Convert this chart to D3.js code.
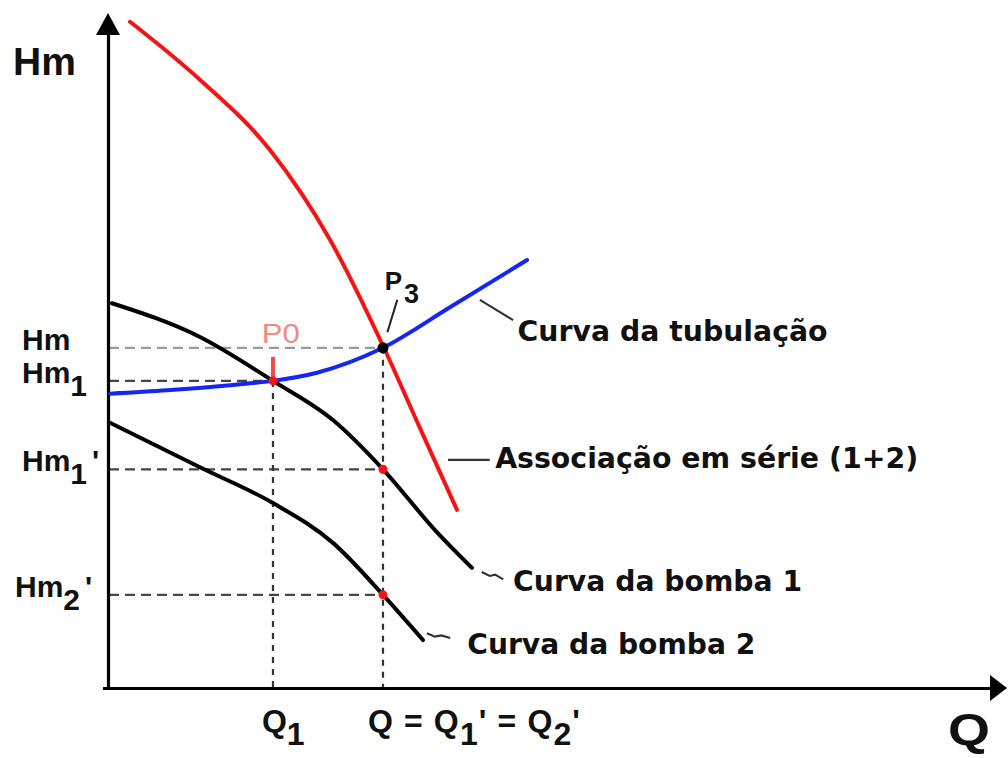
<!DOCTYPE html>
<html><head><meta charset="utf-8">
<script src="https://cdn.jsdelivr.net/npm/d3@7"></script>
<style>body{margin:0;background:#fff}svg{display:block}</style>
</head><body>
<svg id="c" width="1008" height="758"></svg>
<script>
// ---- data (Q, Hm) in arbitrary units ----
const serieCurve = [[2.34,98.7],[10.13,90.1],[17.93,79.7],[24.61,66.4],[30.51,50.7],[34.63,38.5],[38.75,26.4]];
const bomba1Curve = [[0.33,57.0],[10.13,52.0],[18.26,45.5],[24.94,39.7],[30.51,32.4],[36.30,23.4],[40.42,17.8]];
const bomba2Curve = [[0.11,39.3],[10.13,32.7],[18.26,27.4],[24.94,21.5],[30.51,13.8],[34.97,7.1]];
const tubulacaoCurve = [[0.11,43.6],[6.46,44.1],[13.81,44.9],[18.26,45.5],[23.16,46.7],[30.51,50.4],[37.97,56.4],[46.55,63.4]];

const qValues = {Q1: 18.26, Q: 30.51};
const hmValues = {Hm: 50.4, Hm1: 45.5, Hm1p: 32.4, Hm2p: 13.8};

// tick label parts: [text, isSub]
const qTickLabels = [
  {q: qValues.Q1, parts: [["Q",0],["1",1]], dx: -11},
  {q: qValues.Q, parts: [["Q = Q",0],["1",1],["' = Q",0],["2",1],["'",0]], dx: -15, len: 212}
];
const hmTickLabels = [
  {hm: hmValues.Hm, parts: [["Hm",0]], x: 22},
  {hm: hmValues.Hm1, parts: [["Hm",0],["1",1]], x: 22},
  {hm: hmValues.Hm1p, parts: [["Hm",0],["1",1],["'",0]], x: 22},
  {hm: hmValues.Hm2p, parts: [["Hm",0],["2",1],["'",0]], x: 15}
];

// reference (dashed) lines
const hRefs = [
  {hm: hmValues.Hm, qEnd: qValues.Q, color: "#9a9a9a"},
  {hm: hmValues.Hm1, qEnd: qValues.Q1, color: "#444"},
  {hm: hmValues.Hm1p, qEnd: qValues.Q, color: "#444"},
  {hm: hmValues.Hm2p, qEnd: qValues.Q, color: "#444"}
];
const vRefs = [
  {q: qValues.Q1, hmTop: hmValues.Hm1},
  {q: qValues.Q, hmTop: hmValues.Hm}
];

// curve labels with leader lines (data units)
const curveLabels = [
  {text: "Curva da tubulação", x: 45.5, y: 51.4, len: 310, leader: [[41.3,57.5],[45.0,54.5]]},
  {text: "Associação em série (1+2)", x: 43.0, y: 32.6, len: 423, leader: [[37.75,33.8],[42.4,33.8]]},
  {text: "Curva da bomba 1", x: 45.0, y: 14.4, len: 289, leader: [[41.5,17.2],[42.4,16.6],[43.0,16.8],[43.9,16.1]]},
  {text: "Curva da bomba 2", x: 39.9, y: 5.0, len: 288, leader: [[35.4,8.1],[36.3,7.6],[37.0,7.8],[38.0,7.4]]}
];

const svg = d3.select("#c");
const x = d3.scaleLinear().domain([0,100]).range([109,1007]);
const y = d3.scaleLinear().domain([0,100]).range([688,13]);

const line = d3.line().x(d=>x(d[0])).y(d=>y(d[1])).curve(d3.curveMonotoneX);
const straight = d3.line().x(d=>x(d[0])).y(d=>y(d[1]));

// dashed reference lines
svg.append("g").selectAll("line").data(hRefs).join("line")
  .attr("x1", x(0)).attr("x2", d=>x(d.qEnd))
  .attr("y1", d=>y(d.hm)).attr("y2", d=>y(d.hm))
  .attr("stroke", d=>d.color).attr("stroke-width", 2.2).attr("stroke-dasharray","10,6");
svg.append("g").selectAll("line").data(vRefs).join("line")
  .attr("x1", d=>x(d.q)).attr("x2", d=>x(d.q))
  .attr("y1", d=>y(d.hmTop)).attr("y2", y(0))
  .attr("stroke", "#333").attr("stroke-width", 2.2).attr("stroke-dasharray","6,6");

// axes
const axG = svg.append("g");
axG.append("g").attr("transform", `translate(0,${y(0)})`)
  .call(d3.axisBottom(x).tickValues([]).tickSizeOuter(0))
  .call(g=>g.select(".domain").attr("stroke","#000").attr("stroke-width",3.2)
     .attr("d", `M${x(0)-6},0.5H${x(100)-14}`));
axG.append("g").attr("transform", `translate(${x(0)},0)`)
  .call(d3.axisLeft(y).tickValues([]).tickSizeOuter(0))
  .call(g=>g.select(".domain").attr("stroke","#000").attr("stroke-width",3.2)
     .attr("d", `M-0.5,${y(0)+2}V${y(100)+18}`));
// arrowheads
axG.append("path").attr("d", `M${x(100)},${y(0)} L${x(100)-17},${y(0)-13} L${x(100)-17},${y(0)+13} Z`).attr("fill","#000");
axG.append("path").attr("d", `M${x(0)-1},${y(100)} L${x(0)-13},${y(100)+22} L${x(0)+11},${y(100)+22} Z`).attr("fill","#000");

// curves
const curves = [
  {data: bomba2Curve, color: "#000"},
  {data: bomba1Curve, color: "#000"},
  {data: tubulacaoCurve, color: "#1426f5"},
  {data: serieCurve, color: "#f41414"}
];
svg.append("g").selectAll("path").data(curves).join("path")
  .attr("d", d=>line(d.data)).attr("fill","none")
  .attr("stroke", d=>d.color).attr("stroke-width", 4)
  .attr("stroke-linecap","round").attr("stroke-linejoin","round");

// markers
svg.append("line").attr("x1", x(qValues.Q1)).attr("x2", x(qValues.Q1))
  .attr("y1", y(hmValues.Hm1)-24).attr("y2", y(hmValues.Hm1))
  .attr("stroke","#f24a4a").attr("stroke-width",4);
const redDots = [[qValues.Q1, hmValues.Hm1],[qValues.Q, hmValues.Hm1p],[qValues.Q, hmValues.Hm2p]];
svg.append("g").selectAll("circle").data(redDots).join("circle")
  .attr("cx", d=>x(d[0])).attr("cy", d=>y(d[1])).attr("r", 4.5).attr("fill","#f41414");
svg.append("circle").attr("cx", x(qValues.Q)).attr("cy", y(hmValues.Hm)).attr("r", 5.5).attr("fill","#000");

// point labels
svg.append("text").attr("x", x(17.0)).attr("y", y(51.1))
  .attr("font-family","Liberation Sans, Arial, sans-serif").attr("font-size",28)
  .attr("fill","#f08a84").attr("textLength",38).attr("lengthAdjust","spacingAndGlyphs").text("P0");
const p3 = svg.append("text").attr("x", x(30.7)).attr("y", y(59.0))
  .attr("font-family","Liberation Sans, Arial, sans-serif").attr("font-size",26).attr("font-weight","bold").attr("fill","#111");
p3.append("tspan").text("P");
p3.append("tspan").attr("dy",13).attr("dx",2).attr("font-size",27).text("3");
svg.append("path").attr("d", straight([[32.1,57.5],[31.0,52.7]]))
  .attr("stroke","#222").attr("stroke-width",2).attr("fill","none");

// curve labels
const cl = svg.append("g");
cl.selectAll("path").data(curveLabels).join("path")
  .attr("d", d=>straight(d.leader)).attr("fill","none")
  .attr("stroke","#333").attr("stroke-width",2.2);
cl.selectAll("text").data(curveLabels).join("text")
  .attr("x", d=>x(d.x)).attr("y", d=>y(d.y))
  .attr("font-family","DejaVu Sans, Verdana, sans-serif").attr("font-weight","bold")
  .attr("font-size",29).attr("fill","#111")
  .attr("textLength", d=>d.len).attr("lengthAdjust","spacingAndGlyphs")
  .text(d=>d.text);

// tick labels
function buildParts(t, parts, primeDx){
  let sub = false;
  parts.forEach(p=>{
    const ts = t.append("tspan").text(p[0]);
    if (p[1] && !sub){ ts.attr("dy",13); sub = true; }
    else if (!p[1] && sub){ ts.attr("dy",-13); sub = false; if (primeDx && p[0]==="'") ts.attr("dx",primeDx); }
  });
}
const labelFont = "Liberation Sans, Arial, sans-serif";
svg.append("g").selectAll("text").data(qTickLabels).join("text")
  .attr("x", d=>x(d.q)+d.dx).attr("y", y(0)+44)
  .attr("font-family",labelFont).attr("font-weight","bold").attr("font-size",32).attr("fill","#111")
  .each(function(d){
    const t = d3.select(this);
    buildParts(t, d.parts, 0);
    if (d.len) t.attr("textLength", d.len).attr("lengthAdjust","spacing");
  });
svg.append("g").selectAll("text").data(hmTickLabels).join("text")
  .attr("x", d=>d.x).attr("y", d=>y(d.hm)+2)
  .attr("font-family",labelFont).attr("font-weight","bold").attr("font-size",30).attr("fill","#111")
  .each(function(d){ buildParts(d3.select(this), d.parts, 5); });

// axis titles
svg.append("text").attr("x",13).attr("y",75)
  .attr("font-family",labelFont).attr("font-weight","bold").attr("font-size",39).attr("fill","#111")
  .text("Hm");
svg.append("text").attr("x",948).attr("y",745)
  .attr("font-family",labelFont).attr("font-weight","bold").attr("font-size",44).attr("fill","#111")
  .attr("textLength",42).attr("lengthAdjust","spacingAndGlyphs")
  .text("Q");
</script>
</body></html>
